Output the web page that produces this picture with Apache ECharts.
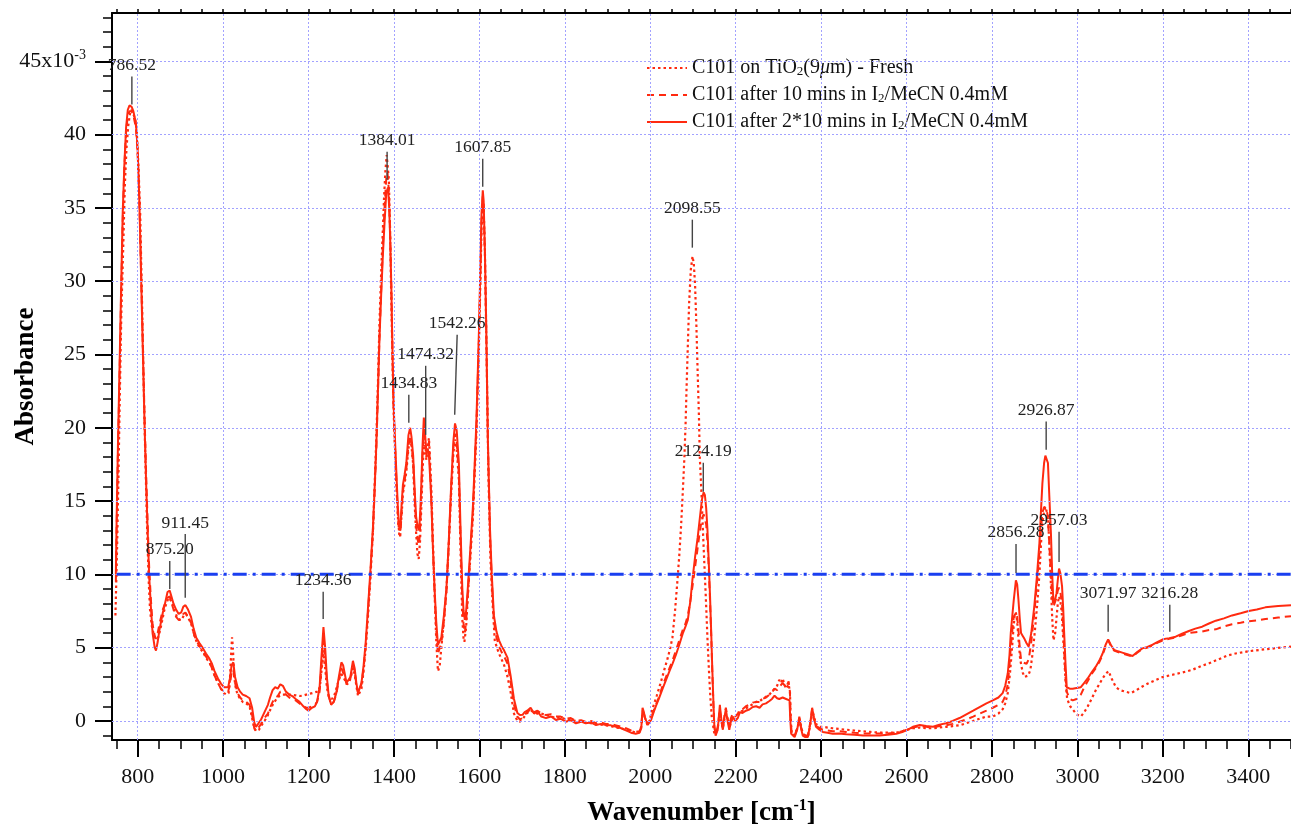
<!DOCTYPE html>
<html>
<head>
<meta charset="utf-8">
<script src="https://cdn.jsdelivr.net/npm/echarts@6/dist/echarts.min.js"></script>
<style>
html,body{margin:0;padding:0;background:#fff;}
#chart{width:1291px;height:827px;}
</style>
</head>
<body>
<div id="chart"></div>
<script>
// ---------- DATA ----------
const seriesNames = [
  'C101 on TiO2(9μm) - Fresh',
  'C101 after 10 mins in I2/MeCN 0.4mM',
  'C101 after 2*10 mins in I2/MeCN 0.4mM'
];

const freshData = [[748,7.2],[750,9.5],[752,11.9],[755,16.5],[757,20],[760,25],[762,28],[765,31],[767,33.1],[770,36.5],[774,39.1],[778,40.6],[782,41.4],[786,41.7],[790,41.6],[794,41.1],[798,40.2],[802,37.8],[806,34.6],[810,29],[814,23.2],[818,18],[822,13.3],[826,9.5],[829,7.6],[833,6.5],[837,6.0],[842,5.6],[847,5.6],[851,6.0],[855,6.5],[862,7.5],[868,8.1],[873,8.4],[878,8.2],[882,8.0],[887,7.5],[892,7.1],[897,6.9],[903,6.9],[908,7.2],[913,7.3],[919,7.0],[926,6.6],[932,5.9],[938,5.4],[945,5.0],[953,4.7],[960,4.3],[968,4.0],[974,3.6],[980,3.1],[988,2.6],[995,2.2],[1002,1.9],[1008,1.8],[1013,1.9],[1016,2.8],[1019,4.6],[1021,5.7],[1023,5.0],[1026,3.0],[1030,2.2],[1034,1.8],[1040,1.5],[1046,1.3],[1054,1.2],[1062,1.0],[1068,0.2],[1073,-0.5],[1078,-0.7],[1084,-0.6],[1090,-0.3],[1097,0.0],[1105,0.4],[1111,0.8],[1118,1.2],[1125,1.5],[1132,1.7],[1140,1.8],[1150,1.8],[1160,1.8],[1170,1.75],[1180,1.7],[1190,1.75],[1200,1.84],[1209,1.9],[1218,1.98],[1223,2.0],[1227,2.4],[1231,3.6],[1235,4.6],[1239,3.6],[1243,2.3],[1247,1.7],[1255,1.5],[1260,1.7],[1265,2.2],[1271,2.8],[1277,3.2],[1281,3.1],[1285,2.8],[1290,2.5],[1295,2.6],[1300,3.1],[1304,3.6],[1308,3.2],[1312,2.4],[1316,1.7],[1320,1.6],[1324,2.2],[1329,3.4],[1334,5.0],[1339,7.0],[1345,9.8],[1351,13],[1355,16.2],[1359,19.5],[1363,23.5],[1366,27],[1370,30.5],[1374,33.5],[1377,35.8],[1380,37.5],[1383,38.6],[1385,38.7],[1388,37],[1391,33.5],[1393,30],[1397,24],[1400,20.5],[1405,16.5],[1410,13.5],[1413,12.7],[1415,12.6],[1418,14],[1421,15.5],[1425,16.2],[1429,17.0],[1434,18.6],[1438,19.3],[1441,18.8],[1445,17.5],[1449,14.5],[1452,12.8],[1455,11.4],[1458,11.05],[1461,12.2],[1464,14.5],[1467,17],[1470,19.0],[1473,18.5],[1476,17.8],[1479,18.8],[1482,19.3],[1485,17.5],[1488,15.5],[1491,12.5],[1495,9.0],[1499,5.5],[1503,3.4],[1507,3.7],[1511,5.0],[1517,6.8],[1523,9.0],[1528,11.8],[1534,15.5],[1539,18.2],[1543,19.2],[1547,18.5],[1552,16.5],[1556,11.5],[1560,7.0],[1563,5.6],[1565,5.4],[1569,6.4],[1573,8.5],[1579,11.2],[1585,14.0],[1589,16.8],[1593,19.5],[1596,22.5],[1599,25.5],[1602,29.5],[1605,33.5],[1608,35.5],[1610,35.0],[1613,32],[1617,25],[1621,17],[1626,11],[1631,8],[1636,5.5],[1641,5.0],[1646,4.6],[1652,4.2],[1658,3.8],[1666,3.0],[1673,2.0],[1681,0.5],[1689,0.0],[1695,-0.05],[1701,0.1],[1710,0.5],[1720,0.7],[1728,0.6],[1736,0.5],[1745,0.5],[1756,0.4],[1768,0.3],[1779,0.2],[1790,0.25],[1802,0.1],[1814,0.05],[1826,0.0],[1838,-0.05],[1849,-0.1],[1861,-0.15],[1873,-0.2],[1885,-0.25],[1896,-0.3],[1908,-0.35],[1920,-0.45],[1932,-0.5],[1943,-0.6],[1955,-0.7],[1966,-0.8],[1975,-0.75],[1979,-0.4],[1983,0.6],[1986,0.4],[1990,0.0],[1994,-0.3],[1999,0.1],[2005,0.8],[2015,1.7],[2025,2.66],[2033,3.5],[2041,4.3],[2047,5.0],[2052,5.7],[2058,7.5],[2064,9.7],[2068,11.3],[2072,13.2],[2076,15.5],[2080,18],[2083,20.5],[2085,22.7],[2088,25.6],[2091,28.5],[2095,30.8],[2099,31.7],[2102,31.2],[2105,29.7],[2108,27],[2111,23.8],[2114,20.8],[2116,18],[2120,15.5],[2123,13.2],[2127,10.5],[2130,8.5],[2134,5.6],[2138,3.1],[2141,1.5],[2144,0.3],[2150,-0.87],[2155,-0.8],[2158,-0.5],[2163,0.6],[2166,0.0],[2170,-0.5],[2174,0.2],[2178,0.5],[2182,0.0],[2186,-0.4],[2190,0.0],[2194,0.2],[2200,0.1],[2205,0.4],[2210,0.6],[2216,0.7],[2224,0.85],[2232,1.0],[2240,1.15],[2248,1.3],[2256,1.35],[2263,1.5],[2271,1.65],[2279,1.8],[2285,2.0],[2291,2.2],[2297,2.4],[2302,2.8],[2306,2.6],[2310,2.9],[2314,2.5],[2318,2.2],[2324,2.5],[2327,2.0],[2329,0.0],[2331,-0.8],[2336,-1.0],[2340,-1.0],[2345,-0.5],[2350,0.1],[2354,-0.5],[2358,-0.9],[2364,-1.0],[2370,-1.0],[2375,-0.2],[2380,0.7],[2384,0.2],[2390,-0.3],[2397,-0.4],[2405,-0.4],[2415,-0.45],[2427,-0.5],[2442,-0.55],[2460,-0.6],[2478,-0.65],[2498,-0.7],[2517,-0.75],[2537,-0.8],[2556,-0.8],[2576,-0.8],[2590,-0.7],[2601,-0.6],[2615,-0.5],[2631,-0.45],[2646,-0.5],[2662,-0.5],[2677,-0.45],[2693,-0.4],[2708,-0.35],[2724,-0.3],[2740,-0.15],[2756,0.0],[2771,0.15],[2787,0.3],[2802,0.3],[2815,0.5],[2825,0.8],[2831,1.2],[2837,1.9],[2842,3.2],[2846,4.6],[2850,6.2],[2853,7.2],[2856,7.4],[2859,6.8],[2862,5.6],[2866,4.2],[2872,3.3],[2876,3.0],[2880,2.9],[2885,3.1],[2890,3.5],[2895,4.6],[2900,6.0],[2906,8.0],[2911,10],[2915,12.2],[2918,13.5],[2922,14.3],[2925,14.6],[2928,14.5],[2931,14.0],[2934,12.2],[2937,10],[2941,7.0],[2944,5.5],[2948,6.0],[2951,7.0],[2954,8.0],[2957,8.5],[2960,8.2],[2963,7.5],[2966,6.0],[2969,4.5],[2972,2.8],[2976,1.5],[2983,1.0],[2990,0.75],[2998,0.45],[3008,0.3],[3016,0.6],[3024,0.98],[3033,1.5],[3043,2.1],[3051,2.5],[3059,2.9],[3066,3.2],[3073,3.4],[3080,2.9],[3090,2.3],[3100,2.1],[3112,2.0],[3125,1.9],[3138,2.1],[3152,2.35],[3165,2.55],[3180,2.75],[3200,3.0],[3215,3.1],[3230,3.2],[3253,3.36],[3270,3.5],[3290,3.75],[3308,3.93],[3330,4.2],[3350,4.45],[3370,4.6],[3400,4.75],[3425,4.84],[3460,4.95],[3500,5.07]];

const tenMinData = [[749,9.5],[751,13.5],[754,18.5],[757,22.5],[761,28.5],[765,34],[769,37.8],[773,40.2],[777,41.3],[781,41.6],[786,41.6],[790,41.3],[796,40.5],[800,38.8],[804,35.5],[808,30.8],[812,26],[816,21],[820,16.8],[824,13],[827,10.5],[831,8.3],[835,6.6],[840,5.8],[843,5.6],[847,6.0],[851,6.6],[855,7.1],[859,7.6],[864,8.0],[870,8.4],[875,8.5],[878,8.2],[884,7.6],[890,7.1],[896,6.9],[902,7.0],[907,7.3],[912,7.4],[918,7.1],[925,6.7],[931,6.0],[937,5.5],[945,5.1],[952,4.8],[960,4.4],[968,4.0],[974,3.6],[980,3.1],[988,2.6],[995,2.2],[1002,2.0],[1007,2.0],[1012,2.0],[1016,2.5],[1020,3.3],[1024,3.5],[1028,2.6],[1034,1.9],[1040,1.6],[1046,1.4],[1054,1.3],[1062,1.1],[1068,0.4],[1073,-0.5],[1077,-0.7],[1082,-0.5],[1089,-0.2],[1097,0.2],[1105,0.5],[1110,0.9],[1116,1.3],[1122,1.6],[1128,1.7],[1134,2.0],[1140,2.0],[1147,1.8],[1155,1.6],[1162,1.5],[1170,1.4],[1179,1.2],[1188,1.0],[1195,0.9],[1200,0.9],[1208,1.0],[1215,1.1],[1220,1.3],[1226,2.0],[1230,3.6],[1235,5.5],[1239,4.4],[1243,2.7],[1247,1.7],[1253,1.1],[1259,1.3],[1265,1.8],[1271,2.8],[1277,3.6],[1281,3.5],[1285,3.0],[1289,2.5],[1293,2.4],[1298,2.9],[1304,3.8],[1308,3.4],[1312,2.5],[1316,1.9],[1320,1.8],[1324,2.5],[1329,3.6],[1334,5.2],[1339,7.3],[1345,10.0],[1351,13.0],[1355,15.8],[1359,18.8],[1363,22.8],[1366,26],[1370,29.3],[1374,32.3],[1378,35],[1382,37],[1385,37.4],[1388,36.2],[1391,33.5],[1394,29.5],[1396,26],[1399,21.5],[1404,17.6],[1409,14.2],[1412,12.8],[1415,12.6],[1418,14.3],[1421,15.7],[1425,16.4],[1429,17.2],[1434,18.8],[1438,19.4],[1441,18.9],[1445,17.6],[1449,15.0],[1452,13.3],[1456,12.3],[1459,12.0],[1462,13.6],[1464,15.4],[1467,18.2],[1470,19.6],[1473,18.8],[1476,18.0],[1479,18.8],[1482,19.0],[1485,17.0],[1488,14.8],[1491,12.0],[1495,8.8],[1499,6.2],[1503,4.6],[1507,4.6],[1511,5.3],[1517,6.8],[1523,8.8],[1528,11.8],[1534,15.8],[1539,18.6],[1543,19.6],[1547,19.0],[1552,16.8],[1556,12.2],[1560,8.3],[1563,6.6],[1566,6.0],[1569,6.8],[1573,8.6],[1579,11.4],[1585,14.3],[1589,17.2],[1593,20.0],[1596,23.0],[1599,26.0],[1602,30.0],[1605,34.0],[1608,35.8],[1610,35.2],[1613,31.8],[1616,26.8],[1620,19],[1625,12.5],[1629,9.6],[1634,6.8],[1640,5.7],[1646,5.1],[1652,4.7],[1658,4.4],[1666,3.9],[1673,2.7],[1681,1.1],[1689,0.3],[1695,0.1],[1701,0.2],[1706,0.4],[1712,0.6],[1720,0.8],[1728,0.6],[1736,0.7],[1745,0.5],[1756,0.4],[1768,0.45],[1779,0.3],[1790,0.3],[1802,0.15],[1814,0.2],[1826,0.0],[1838,0.05],[1849,-0.05],[1861,0.0],[1873,-0.15],[1885,-0.1],[1896,-0.2],[1908,-0.2],[1920,-0.3],[1932,-0.4],[1943,-0.5],[1955,-0.65],[1966,-0.75],[1975,-0.7],[1979,-0.4],[1982,0.7],[1985,0.5],[1988,0.2],[1994,-0.2],[1998,0.0],[2002,0.2],[2008,0.7],[2013,1.1],[2020,1.6],[2029,2.4],[2037,3.0],[2045,3.6],[2052,4.1],[2060,4.8],[2068,5.5],[2076,6.2],[2082,6.6],[2088,7.2],[2094,8.2],[2099,9.2],[2105,10.5],[2111,11.8],[2116,12.9],[2121,13.8],[2125,14.1],[2128,14.0],[2131,13.4],[2134,12.2],[2137,10.4],[2140,8.2],[2143,5.6],[2145,3.6],[2148,1.0],[2150,-0.4],[2153,-0.9],[2158,-0.4],[2163,0.8],[2166,0.0],[2170,-0.5],[2174,0.4],[2177,0.9],[2181,0.2],[2185,-0.3],[2189,0.2],[2193,0.5],[2199,0.3],[2205,0.5],[2210,0.8],[2216,0.8],[2224,1.0],[2232,1.1],[2240,1.25],[2248,1.3],[2256,1.3],[2263,1.5],[2271,1.6],[2279,1.8],[2285,1.95],[2291,2.2],[2297,2.1],[2302,2.3],[2310,2.6],[2318,2.3],[2324,2.7],[2327,2.0],[2329,0.0],[2331,-0.8],[2338,-1.0],[2344,-0.5],[2349,0.2],[2353,-0.4],[2357,-0.9],[2363,-1.0],[2369,-1.0],[2374,-0.2],[2379,0.8],[2383,0.2],[2388,-0.3],[2396,-0.5],[2404,-0.6],[2415,-0.65],[2427,-0.7],[2442,-0.7],[2459,-0.75],[2478,-0.8],[2498,-0.85],[2517,-0.85],[2537,-0.85],[2556,-0.85],[2576,-0.8],[2590,-0.7],[2601,-0.6],[2615,-0.45],[2631,-0.35],[2646,-0.4],[2662,-0.45],[2677,-0.35],[2693,-0.3],[2708,-0.2],[2724,-0.05],[2740,0.1],[2756,0.3],[2771,0.5],[2787,0.7],[2802,0.9],[2815,1.1],[2825,1.3],[2831,1.7],[2837,2.5],[2841,3.8],[2844,5.0],[2848,6.3],[2851,7.1],[2856,7.4],[2859,7.1],[2862,6.2],[2865,5.0],[2868,4.2],[2872,4.0],[2876,3.9],[2881,3.9],[2886,4.2],[2892,5.4],[2899,7.3],[2905,9.3],[2911,11.5],[2915,13.2],[2918,14.2],[2922,14.6],[2925,14.7],[2928,14.5],[2931,13.8],[2934,12.2],[2938,10.0],[2941,8.5],[2944,7.8],[2948,7.9],[2951,8.4],[2954,8.9],[2957,9.1],[2960,8.8],[2964,8.0],[2967,6.3],[2969,4.8],[2972,3.0],[2975,2.0],[2982,1.5],[2989,1.4],[2998,1.5],[3008,1.8],[3016,2.3],[3024,2.7],[3033,3.2],[3043,3.6],[3051,4.0],[3059,4.5],[3066,5.1],[3072,5.5],[3078,5.15],[3086,4.8],[3095,4.7],[3105,4.6],[3117,4.5],[3129,4.4],[3140,4.65],[3152,4.9],[3164,5.0],[3176,5.15],[3188,5.35],[3200,5.5],[3215,5.6],[3230,5.7],[3245,5.85],[3261,6.0],[3276,6.05],[3292,6.1],[3308,6.2],[3324,6.25],[3343,6.45],[3362,6.6],[3382,6.7],[3401,6.8],[3420,6.85],[3440,6.95],[3470,7.05],[3500,7.15]];

const twentyMinData = [[749,10.0],[751,14],[754,19],[757,23.2],[761,29],[765,34.6],[769,38],[773,40.5],[777,41.7],[781,42.0],[786,41.9],[790,41.6],[796,40.8],[800,39],[804,35.5],[808,30.5],[812,25.5],[816,20.5],[820,16.1],[824,12.5],[827,9.9],[831,7.8],[835,6.0],[840,5.0],[843,4.8],[847,5.4],[851,6.2],[855,6.8],[859,7.4],[864,8.0],[870,8.8],[875,8.9],[878,8.6],[884,8.0],[890,7.6],[896,7.3],[902,7.4],[907,7.8],[912,7.9],[918,7.6],[925,7.1],[931,6.3],[937,5.7],[945,5.3],[952,5.0],[960,4.6],[968,4.25],[974,3.9],[980,3.4],[988,2.9],[995,2.55],[1002,2.3],[1007,2.3],[1012,2.3],[1016,2.9],[1020,3.8],[1024,4.0],[1028,3.0],[1034,2.3],[1040,2.0],[1046,1.8],[1054,1.7],[1062,1.55],[1068,0.9],[1073,-0.1],[1077,-0.4],[1082,-0.2],[1089,0.1],[1097,0.6],[1105,1.1],[1110,1.6],[1116,2.1],[1122,2.3],[1128,2.2],[1134,2.5],[1140,2.4],[1147,2.0],[1155,1.8],[1162,1.7],[1170,1.5],[1179,1.3],[1188,1.0],[1195,0.8],[1200,0.7],[1208,0.9],[1215,1.0],[1220,1.3],[1226,2.3],[1230,4.2],[1235,6.4],[1239,5.0],[1243,3.0],[1247,1.8],[1253,1.1],[1259,1.3],[1265,1.9],[1271,3.0],[1277,4.0],[1281,3.8],[1285,3.2],[1289,2.6],[1293,2.5],[1298,3.0],[1304,4.1],[1308,3.6],[1312,2.6],[1316,1.9],[1320,1.8],[1324,2.6],[1329,3.8],[1334,5.4],[1339,7.6],[1345,10.3],[1351,13.3],[1355,16],[1359,19],[1363,23],[1366,26],[1370,29],[1374,31.7],[1378,34],[1382,36],[1386,36.4],[1389,35],[1391,33.1],[1394,29.5],[1396,26.1],[1399,21.8],[1404,18.1],[1409,14.7],[1412,13.3],[1415,13.0],[1418,14.8],[1421,16.1],[1425,16.8],[1429,17.6],[1434,19.5],[1438,20.0],[1441,19.4],[1445,18.1],[1449,15.5],[1452,13.9],[1456,13.2],[1459,13.0],[1462,14.5],[1464,16.1],[1467,18.8],[1470,20.7],[1473,19.5],[1476,18.4],[1479,18.6],[1482,18.1],[1485,16.5],[1488,14.7],[1491,12.0],[1495,9.1],[1499,6.8],[1503,5.2],[1507,5.1],[1511,5.7],[1517,7.2],[1523,9.1],[1528,12.0],[1534,16.1],[1539,19.0],[1543,20.3],[1547,19.8],[1552,17.6],[1556,13],[1560,9.1],[1563,7.5],[1566,6.9],[1569,7.5],[1573,9.1],[1579,11.8],[1585,14.7],[1589,17.5],[1593,20.4],[1596,23.5],[1599,26.6],[1602,30.5],[1605,34.6],[1608,36.2],[1610,35.5],[1613,32],[1616,27],[1620,19],[1625,13],[1629,10],[1634,7.2],[1640,6.1],[1646,5.5],[1652,5.1],[1658,4.8],[1666,4.3],[1673,3.1],[1681,1.5],[1689,0.54],[1695,0.4],[1701,0.42],[1706,0.6],[1712,0.7],[1720,0.9],[1728,0.5],[1736,0.66],[1745,0.3],[1756,0.19],[1768,0.3],[1779,0.07],[1790,0.15],[1802,-0.05],[1814,0.05],[1826,-0.16],[1838,-0.05],[1849,-0.16],[1861,-0.1],[1873,-0.28],[1885,-0.2],[1896,-0.28],[1908,-0.3],[1920,-0.4],[1932,-0.5],[1943,-0.64],[1955,-0.8],[1966,-0.87],[1975,-0.8],[1979,-0.5],[1982,0.9],[1985,0.6],[1988,0.2],[1994,-0.28],[1998,-0.1],[2002,0.07],[2008,0.6],[2013,1.0],[2020,1.5],[2029,2.2],[2037,2.8],[2045,3.4],[2052,3.9],[2060,4.5],[2068,5.2],[2076,5.95],[2082,6.4],[2088,6.9],[2094,8.2],[2099,9.7],[2105,11.2],[2111,12.5],[2116,13.8],[2121,15.1],[2125,15.6],[2128,15.4],[2131,14.5],[2134,13.0],[2137,10.8],[2140,8.5],[2143,5.8],[2145,3.8],[2148,1.2],[2150,-0.3],[2153,-1.0],[2158,-0.6],[2163,1.1],[2166,0.2],[2170,-0.6],[2174,0.3],[2177,0.8],[2181,0.0],[2185,-0.6],[2189,0.0],[2193,0.3],[2199,0.0],[2205,0.2],[2210,0.6],[2216,0.54],[2224,0.7],[2232,0.78],[2240,0.95],[2248,1.0],[2256,0.9],[2263,1.13],[2271,1.2],[2279,1.36],[2285,1.5],[2291,1.72],[2297,1.55],[2302,1.5],[2310,1.6],[2318,1.5],[2326,1.4],[2328,0.0],[2330,-0.87],[2338,-1.1],[2344,-0.6],[2349,0.3],[2353,-0.5],[2357,-1.0],[2363,-1.1],[2369,-1.1],[2374,-0.3],[2379,0.9],[2383,0.2],[2388,-0.4],[2396,-0.6],[2404,-0.75],[2415,-0.8],[2427,-0.87],[2442,-0.85],[2459,-0.9],[2478,-0.95],[2498,-1.0],[2517,-1.0],[2537,-1.0],[2556,-0.95],[2576,-0.87],[2590,-0.75],[2601,-0.63],[2615,-0.4],[2631,-0.28],[2646,-0.35],[2662,-0.4],[2677,-0.25],[2693,-0.16],[2708,0.0],[2724,0.2],[2740,0.45],[2756,0.7],[2771,0.95],[2787,1.2],[2802,1.4],[2815,1.6],[2825,1.9],[2831,2.4],[2837,3.25],[2841,4.5],[2844,6.0],[2848,7.3],[2851,8.25],[2856,9.6],[2859,9.3],[2862,8.25],[2865,7.0],[2868,6.0],[2872,5.8],[2876,5.6],[2881,5.3],[2886,5.07],[2892,6.0],[2899,7.8],[2905,9.8],[2911,12.1],[2915,14.5],[2918,16.2],[2922,17.6],[2925,18.1],[2928,18.2],[2931,17.6],[2934,15.5],[2938,12.8],[2941,10],[2944,8.0],[2948,8.3],[2951,8.7],[2954,9.6],[2957,10.4],[2960,10.1],[2964,9.2],[2967,7.5],[2969,6.0],[2972,4.0],[2975,2.3],[2982,2.2],[2989,2.2],[2998,2.25],[3008,2.3],[3016,2.6],[3024,2.9],[3033,3.3],[3043,3.7],[3051,4.1],[3059,4.6],[3066,5.2],[3072,5.57],[3078,5.2],[3086,4.84],[3095,4.75],[3105,4.66],[3117,4.55],[3129,4.43],[3140,4.7],[3152,4.95],[3164,5.05],[3176,5.2],[3188,5.4],[3200,5.57],[3215,5.65],[3230,5.75],[3245,5.95],[3261,6.14],[3276,6.3],[3292,6.43],[3308,6.65],[3324,6.84],[3343,7.0],[3362,7.2],[3382,7.35],[3401,7.5],[3420,7.6],[3440,7.75],[3470,7.85],[3500,7.9]];

const baselineData = [[751,10],[3500,10]];

// peak annotations (wavenumber, line top / bottom in absorbance units x1e-3)
const peakLabels = ['786.52','875.20','911.45','1234.36','1384.01','1434.83','1474.32','1542.26','1607.85','2098.55','2124.19','2856.28','2926.87','2957.03','3071.97','3216.28'];
const peakX      = [786.52, 875.20, 911.45, 1234.36, 1384.01, 1434.83, 1474.32, 1542.26, 1607.85, 2098.55, 2124.19, 2856.28, 2926.87, 2957.03, 3071.97, 3216.28];
const labelX     = [786.52, 875.20, 911.45, 1234.36, 1384.01, 1434.83, 1474.32, 1548.0, 1607.85, 2098.55, 2124.19, 2856.28, 2926.87, 2957.03, 3071.97, 3216.28];
const peakTop    = [43.96, 10.92, 12.76, 8.81, 38.84, 22.25, 24.23, 26.35, 38.36, 34.2, 17.61, 12.08, 20.43, 12.9, 7.92, 7.92];
const peakBottom = [42.05, 9.01, 8.40, 6.96, 36.93, 20.34, 19.52, 20.89, 36.45, 32.29, 15.63, 10.1, 18.5, 10.85, 6.08, 6.08];

// axis ticks
const xMajorTicks = [800,1000,1200,1400,1600,1800,2000,2200,2400,2600,2800,3000,3200,3400];
const yMajorTicks = [0,5,10,15,20,25,30,35,40,45];
const xMinorTicks = []; for (let v = 750; v <= 3500; v += 50) xMinorTicks.push(v);
const yMinorTicks = []; for (let v = -1; v <= 48; v += 1) yMinorTicks.push(v);

// ---------- CHART ----------
const FONT = '"Liberation Serif", "DejaVu Serif", serif';
const RED = '#ff2a10';
const chart = echarts.init(document.getElementById('chart'), null, {renderer: 'canvas'});

const X_MIN = 740, X_MAX = 3500, Y_MIN = -1.3, Y_MAX = 48.3;

const legendRich = {
  sub: {fontSize: 13, fontFamily: FONT, color: '#111', verticalAlign: 'bottom', padding: [10, 0, 0, 0]},
  it: {fontSize: 20, fontFamily: FONT, color: '#111', fontStyle: 'italic'}
};
function legendFmt(name) {
  return name.replace('TiO2', 'TiO{sub|2}').replace('I2/', 'I{sub|2}/').replace('μ', '{it|μ}');
}

const option = {
  animation: false,
  backgroundColor: '#fff',
  grid: {left: 112, right: 0, top: 13, bottom: 87, containLabel: false, outerBoundsMode: 'none'},
  legend: {
    data: seriesNames,
    orient: 'vertical',
    left: 641, top: 53,
    itemWidth: 40, itemHeight: 14, itemGap: 7,
    itemStyle: {opacity: 0},
    formatter: legendFmt,
    textStyle: {fontFamily: FONT, fontSize: 20, color: '#111', lineHeight: 20, rich: legendRich}
  },
  xAxis: [
    {
      type: 'value', min: X_MIN, max: X_MAX, position: 'bottom',
      name: '{a|Wavenumber [cm}{s|-1}{a|]}', nameLocation: 'middle', nameGap: 58, nameMoveOverlap: false,
      nameTextStyle: {rich: {
        a: {fontFamily: FONT, fontWeight: 'bold', fontSize: 27, color: '#000'},
        s: {fontFamily: FONT, fontWeight: 'bold', fontSize: 16, color: '#000', padding: [0, 0, 14, 0]}
      }},
      axisLine: {show: true, onZero: false, lineStyle: {color: '#000', width: 2}},
      axisTick: {show: true, customValues: xMajorTicks, length: 17, lineStyle: {color: '#000', width: 2}},
      axisLabel: {show: true, customValues: xMajorTicks, margin: 26, formatter: v => String(Math.round(v)),
        fontFamily: FONT, fontSize: 22, color: '#111'},
      splitLine: {show: false}
    },
    {
      type: 'value', min: X_MIN, max: X_MAX, position: 'bottom',
      axisLine: {show: false, onZero: false},
      axisTick: {show: true, customValues: xMinorTicks, length: 9, lineStyle: {color: '#000', width: 1.5}},
      axisLabel: {show: false}, splitLine: {show: false}
    },
    {
      type: 'value', min: X_MIN, max: X_MAX, position: 'top',
      axisLine: {show: true, onZero: false, lineStyle: {color: '#000', width: 2}},
      axisTick: {show: true, customValues: xMinorTicks, length: 4, lineStyle: {color: '#000', width: 1.5}},
      axisLabel: {show: false}, splitLine: {show: false}
    }
  ],
  yAxis: [
    {
      type: 'value', min: Y_MIN, max: Y_MAX, position: 'left',
      name: 'Absorbance', nameLocation: 'middle', nameGap: 72, nameRotate: 90, nameMoveOverlap: false,
      nameTextStyle: {fontFamily: FONT, fontWeight: 'bold', fontSize: 27, color: '#000'},
      axisLine: {show: true, onZero: false, lineStyle: {color: '#000', width: 2}},
      axisTick: {show: true, customValues: yMajorTicks, length: 17, lineStyle: {color: '#000', width: 2}},
      axisLabel: {
        show: true, customValues: yMajorTicks, margin: 26,
        formatter: v => (Math.round(v) === 45 ? '{a|45x10}{s|-3}' : '{a|' + Math.round(v) + '}'),
        rich: {
          a: {fontFamily: FONT, fontSize: 22, color: '#111'},
          s: {fontFamily: FONT, fontSize: 14, color: '#111', padding: [0, 0, 12, 0]}
        }
      },
      splitLine: {show: false}
    },
    {
      type: 'value', min: Y_MIN, max: Y_MAX, position: 'left',
      axisLine: {show: false, onZero: false},
      axisTick: {show: true, customValues: yMinorTicks, length: 9, lineStyle: {color: '#000', width: 1.5}},
      axisLabel: {show: false}, splitLine: {show: false}
    }
  ],
  series: [
    {
      name: 'gridlines', type: 'line', data: [], z: 1, silent: true,
      markLine: {
        silent: true, symbol: 'none', animation: false,
        label: {show: false},
        lineStyle: {color: '#a2a2ff', width: 1, type: [2, 2]},
        data: xMajorTicks.map(v => ({xAxis: v})).concat(yMajorTicks.map(v => ({yAxis: v})))
      }
    },
    {
      name: seriesNames[0], type: 'line', data: freshData, showSymbol: false, symbol: 'none', z: 3,
      lineStyle: {color: RED, width: 2.2, type: [2.5, 3]}, itemStyle: {color: RED}
    },
    {
      name: seriesNames[1], type: 'line', data: tenMinData, showSymbol: false, symbol: 'none', z: 3,
      lineStyle: {color: RED, width: 2, type: [7, 5]}, itemStyle: {color: RED}
    },
    {
      name: seriesNames[2], type: 'line', data: twentyMinData, showSymbol: false, symbol: 'none', z: 4,
      lineStyle: {color: RED, width: 2, type: 'solid'}, itemStyle: {color: RED}
    },
    {
      name: 'baseline', type: 'line', data: baselineData, showSymbol: false, symbol: 'none', z: 5, silent: true,
      lineStyle: {color: '#1a3ff0', width: 3, type: [14, 6, 3, 6]}
    },
    {
      name: 'peaks', type: 'custom', z: 6, silent: true, clip: false,
      data: peakX.map((x, i) => [x, peakTop[i], peakBottom[i], labelX[i]]),
      encode: {x: 0, y: [1, 2]},
      renderItem: function (params, api) {
        const i = params.dataIndex;
        const pTop = api.coord([api.value(3), api.value(1)]);
        const pBot = api.coord([api.value(0), api.value(2)]);
        return {
          type: 'group',
          children: [
            {type: 'line', shape: {x1: pTop[0], y1: pTop[1], x2: pBot[0], y2: pBot[1]},
             style: {stroke: '#444', lineWidth: 1.4}},
            {type: 'text', style: {text: peakLabels[i], x: pTop[0], y: pTop[1] - 2,
              align: 'center', verticalAlign: 'bottom', fontFamily: FONT, fontSize: 17.5, fill: '#222'}}
          ]
        };
      }
    }
  ]
};
chart.setOption(option);
</script>
</body>
</html>
